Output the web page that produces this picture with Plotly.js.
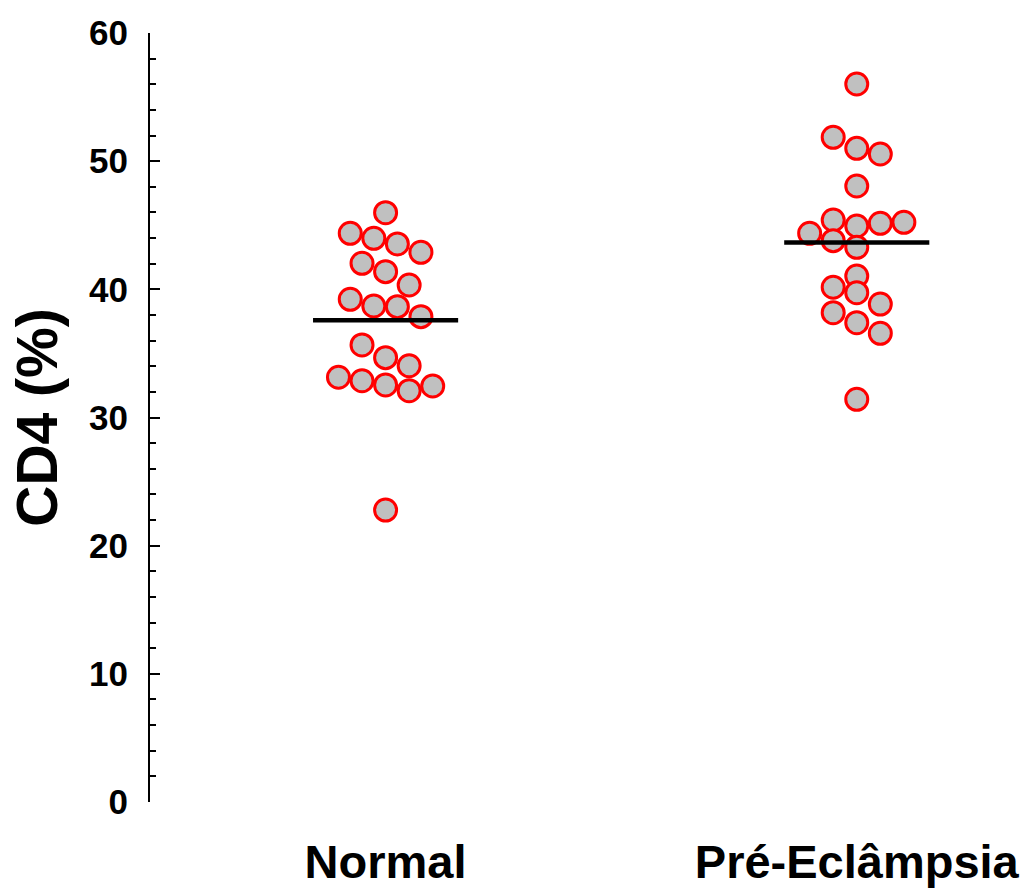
<!DOCTYPE html>
<html>
<head>
<meta charset="utf-8">
<script src="https://cdn.plot.ly/plotly-3.0.1.min.js"></script>
<style>
  body { margin: 0; background: #fff; }
  #graph { width: 1024px; height: 895px; }
</style>
</head>
<body>
<div id="graph"></div>
<script>
// CD4 (%) per group
const groups = ['Normal', 'Pré-Eclâmpsia'];

const normalValues = [45.98, 44.37, 43.98, 43.54, 42.89, 42.03, 41.38, 40.34, 39.22, 38.70,
                      38.65, 37.87, 35.66, 34.67, 34.04, 33.14, 32.87, 32.54, 32.09, 32.46, 22.78];
// horizontal slot of each dot in the swarm (half dot widths from the centre)
const normalSlots  = [0, -3, -1, 1, 3, -2, 0, 2, -3, -1,
                      1, 3, -2, 0, 2, -4, -2, 0, 2, 4, 0];

const preValues = [56.02, 51.86, 51.00, 50.56, 48.06, 45.41, 44.94, 45.15, 45.23, 44.37,
                   43.80, 43.28, 41.04, 40.16, 39.74, 38.85, 38.18, 37.40, 36.57, 31.42];
const preSlots  = [0, -2, 0, 2, 0, -2, 0, 2, 4, -4,
                   -2, 0, 0, -2, 0, 2, -2, 0, 2, 0];

const yTicks = [0, 10, 20, 30, 40, 50, 60];

const SLOT = 0.025;     // x units per half dot
const HALF_LINE = 0.154; // half length of the mean bar
const font = {family: 'Liberation Sans, Arial, sans-serif', color: '#000', weight: 'bold'};

function mean(arr) {
    return arr.reduce((a, b) => a + b, 0) / arr.length;
}

function dots(values, slots, g) {
    return {
        x: slots.map((s) => g + s * SLOT),
        y: values,
        type: 'scatter',
        mode: 'markers',
        marker: {size: 22, color: '#c0c0c0', line: {color: '#ff0000', width: 3}},
        hoverinfo: 'y',
        showlegend: false,
    };
}

function meanBar(values, g) {
    const m = mean(values);
    return {
        x: [g - HALF_LINE, g + HALF_LINE],
        y: [m, m],
        type: 'scatter',
        mode: 'lines',
        line: {color: '#000', width: 4.5},
        hoverinfo: 'skip',
        showlegend: false,
    };
}

const traces = [
    dots(normalValues, normalSlots, 0),
    dots(preValues, preSlots, 1),
    meanBar(normalValues, 0),
    meanBar(preValues, 1),
];

const layout = {
    width: 1024,
    height: 895,
    margin: {l: 150, r: 24, t: 33, b: 93},
    paper_bgcolor: '#fff',
    plot_bgcolor: '#fff',
    showlegend: false,
    xaxis: {
        range: [-0.5, 1.304],
        tickvals: [0, 1],
        ticktext: groups,
        showgrid: false,
        zeroline: false,
        showline: false,
        ticks: '',
        ticklabelstandoff: 28,
        tickfont: Object.assign({size: 47}, font),
    },
    yaxis: {
        range: [0, 60],
        tickvals: yTicks,
        showgrid: false,
        zeroline: false,
        showline: true,
        linecolor: '#000',
        linewidth: 2,
        ticks: 'inside',
        ticklen: 10,
        tickwidth: 2,
        tickcolor: '#000',
        minor: {dtick: 2, ticks: 'inside', ticklen: 6, tickwidth: 2, tickcolor: '#000', showgrid: false},
        ticklabelstandoff: 13,
        tickfont: Object.assign({size: 35}, font),
        title: {text: 'CD4 (%)', standoff: 13, font: Object.assign({size: 57}, font)},
    },
};

Plotly.newPlot('graph', traces, layout, {displayModeBar: false, staticPlot: true});
</script>
</body>
</html>
